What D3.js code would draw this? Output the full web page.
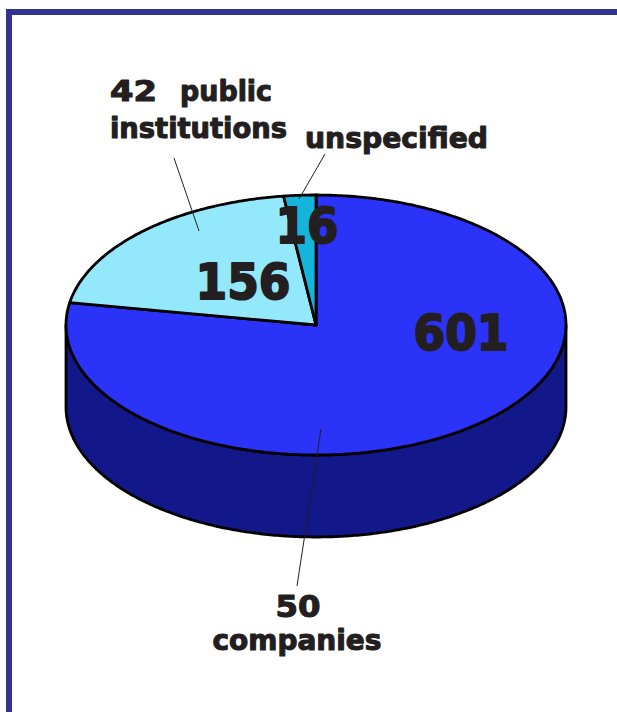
<!DOCTYPE html>
<html>
<head>
<meta charset="utf-8">
<script src="https://cdn.jsdelivr.net/npm/d3@7"></script>
<style>
  html, body { margin: 0; padding: 0; background: #ffffff; }
  svg { display: block; }
  text { font-family: "DejaVu Sans", sans-serif; font-weight: bold; fill: #231F20; stroke: #231F20; stroke-linejoin: round; }
</style>
</head>
<body>
<svg id="chart" width="617" height="712"></svg>
<script>
// ---- data ----
const categories = ["companies", "public institutions", "unspecified"];
const values = [601, 156, 16];
const valueLabels = ["601", "156", "16"];
const countLabels = ["50", "42", ""];
const topColors = ["#2A33F7", "#94E8FC", "#15B4DB"];
const sideColors = ["#12178A", "#5FB8CC", "#0E7E9A"];

// ---- layout ----
const W = 617, H = 712;
const cx = 316, cy = 325, rx = 250, ry = 130, depth = 82;

const svg = d3.select("#chart");

// frame
svg.append("rect").attr("x", 6).attr("y", 9).attr("width", W - 6).attr("height", 6).attr("fill", "#32348F");
svg.append("rect").attr("x", 6).attr("y", 9).attr("width", 6).attr("height", H - 9).attr("fill", "#32348F");

const pie = d3.pie().sort(null).startAngle(0).endAngle(2 * Math.PI);
const arcs = pie(values);

function pt(a, dy) {
  return [cx + rx * Math.sin(a), cy - ry * Math.cos(a) + (dy || 0)];
}
function arcPts(a0, a1, dy) {
  const n = Math.max(2, Math.ceil(Math.abs(a1 - a0) / 0.01));
  const s = d3.scaleLinear().domain([0, n]).range([a0, a1]);
  return d3.range(n + 1).map(i => pt(s(i), dy));
}
const line = d3.line();

// sides (front half visible: angles between PI/2 and 3PI/2)
arcs.forEach((d, i) => {
  const a0 = Math.max(d.startAngle, Math.PI / 2);
  const a1 = Math.min(d.endAngle, 3 * Math.PI / 2);
  if (a1 <= a0) return;
  const pts = arcPts(a0, a1, 0).concat(arcPts(a1, a0, depth));
  svg.append("path")
    .attr("d", line(pts) + "Z")
    .attr("fill", sideColors[i])
    .attr("stroke", "#000")
    .attr("stroke-width", 2.8)
    .attr("stroke-linejoin", "round");
});

// tops
arcs.forEach((d, i) => {
  const pts = [[cx, cy]].concat(arcPts(d.startAngle, d.endAngle, 0));
  svg.append("path")
    .attr("d", line(pts) + "Z")
    .attr("fill", topColors[i])
    .attr("stroke", "#000")
    .attr("stroke-width", 2.8)
    .attr("stroke-linejoin", "round");
});

// value labels
const valuePos = [[461, 350], [243, 299], [307, 243]];
valueLabels.forEach((t, i) => {
  svg.append("text")
    .attr("x", valuePos[i][0]).attr("y", valuePos[i][1])
    .attr("text-anchor", "middle")
    .attr("font-size", 50)
    .attr("stroke-width", 2)
    .attr("textLength", i === 2 ? 63 : 95)
    .attr("lengthAdjust", "spacingAndGlyphs")
    .text(t);
});

// leader lines
const leaders = [
  { p0: [321, 429], p1: [297, 586] },
  { p0: [199, 231], p1: [174, 158] },
  { p0: [299, 199], p1: [325, 154] }
];
leaders.forEach(l => {
  svg.append("line")
    .attr("x1", l.p0[0]).attr("y1", l.p0[1])
    .attr("x2", l.p1[0]).attr("y2", l.p1[1])
    .attr("stroke", "#231F20").attr("stroke-width", 1);
});

// category labels
const fs = 28;
function label(x, y, t, len, anchor, size) {
  const el = svg.append("text").attr("x", x).attr("y", y)
    .attr("font-size", size || fs).attr("stroke-width", 1.1)
    .attr("text-anchor", anchor || "start").text(t);
  if (len) el.attr("textLength", len).attr("lengthAdjust", "spacingAndGlyphs");
}
label(110, 101, countLabels[1], 47);
label(180, 101, "public", 92);
label(110, 138, "institutions", 177);
label(305, 148, categories[2], 183);
label(298, 617, countLabels[0], 45, "middle", 30);
label(297, 650, categories[0], 169, "middle");
</script>
</body>
</html>
